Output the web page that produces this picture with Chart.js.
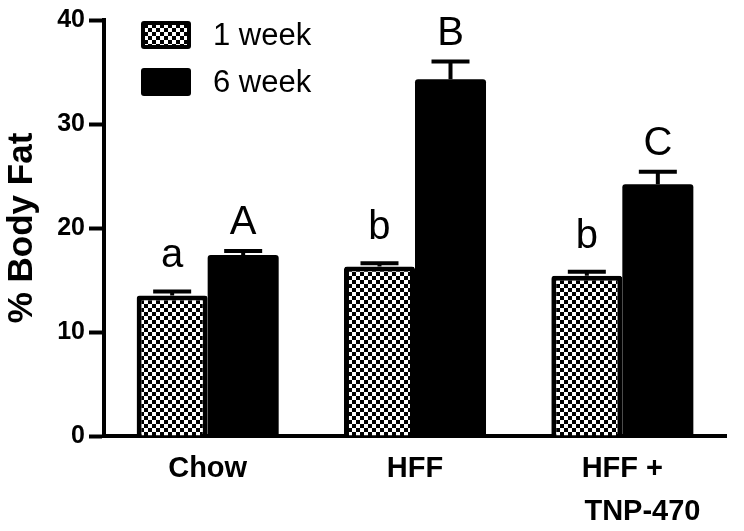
<!DOCTYPE html>
<html>
<head>
<meta charset="utf-8">
<title>% Body Fat</title>
<script src="https://cdn.jsdelivr.net/npm/chart.js@4"></script>
<style>
  html, body { margin: 0; padding: 0; background: #fff; }
  #wrap { width: 744px; height: 531px; position: relative; }
</style>
</head>
<body>
<div id="wrap"><canvas id="fatChart"></canvas></div>
<script>
// ---- data ----
const groups = ['Chow', 'HFF', ['HFF +', '\u00a0\u00a0\u00a0\u00a0\u00a0TNP-470']];
const seriesNames = ['1 week', '6 week'];
const week1 = [13.5, 16.3, 15.4];
const week6 = [17.4, 34.3, 24.2];
const week1Err = [0.4, 0.3, 0.4];
const week6Err = [0.4, 1.7, 1.2];
const week1Letters = ['a', 'b', 'b'];
const week6Letters = ['A', 'B', 'C'];
const yTicks = [0, 10, 20, 30, 40];

const FONT = "'Liberation Sans', Arial, Helvetica, sans-serif";

// checkerboard fill for the 1 week bars
function makeChecker() {
    const c = document.createElement('canvas');
    c.width = 8; c.height = 8;
    const g = c.getContext('2d');
    g.fillStyle = '#fff';
    g.fillRect(0, 0, 8, 8);
    g.fillStyle = '#000';
    g.fillRect(0, 0, 4, 4);
    g.fillRect(4, 4, 4, 4);
    return g.createPattern(c, 'repeat');
}
const checker = makeChecker();

// error bars (upper only) + significance letters
const errorBarPlugin = {
    id: 'errorBars',
    afterDatasetsDraw(chart) {
        const ctx = chart.ctx;
        const yScale = chart.scales.y;
        ctx.save();
        chart.data.datasets.forEach((ds, di) => {
            const meta = chart.getDatasetMeta(di);
            meta.data.forEach((bar, i) => {
                const v = ds.data[i];
                const top = yScale.getPixelForValue(v + ds.errors[i]);
                const base = yScale.getPixelForValue(v);
                ctx.strokeStyle = '#000';
                ctx.lineWidth = 4;
                ctx.beginPath();
                ctx.moveTo(bar.x, base);
                ctx.lineTo(bar.x, top);
                ctx.moveTo(bar.x - 19, top);
                ctx.lineTo(bar.x + 19, top);
                ctx.stroke();
                ctx.fillStyle = '#000';
                ctx.font = '40px ' + FONT;
                ctx.textAlign = 'center';
                ctx.textBaseline = 'alphabetic';
                ctx.fillText(ds.letters[i], bar.x, top - ds.letterGap);
            });
        });
        ctx.restore();
    }
};

// legend drawn inside the plot, top left
const insideLegendPlugin = {
    id: 'insideLegend',
    afterDraw(chart) {
        const ctx = chart.ctx;
        const x0 = chart.chartArea.left + 37;
        const y0 = chart.chartArea.top + 1;
        ctx.save();
        chart.data.datasets.forEach((ds, i) => {
            const y = y0 + i * 47;
            ctx.fillStyle = '#000';
            ctx.beginPath();
            ctx.roundRect(x0, y, 50, 28, 3);
            ctx.fill();
            if (ds.backgroundColor !== '#000') {
                ctx.fillStyle = ds.backgroundColor;
                ctx.fillRect(x0 + 4, y + 4, 42, 20);
            }
            ctx.fillStyle = '#000';
            ctx.font = '31px ' + FONT;
            ctx.textAlign = 'left';
            ctx.textBaseline = 'middle';
            ctx.fillText(ds.label, x0 + 72, y + 15);
        });
        ctx.restore();
    }
};

function initializeChart() {
    const ctx = document.getElementById('fatChart');
    new Chart(ctx, {
        type: 'bar',
        data: {
            labels: groups,
            datasets: [{
                label: seriesNames[0],
                data: week1,
                errors: week1Err,
                letters: week1Letters,
                letterGap: 24,
                backgroundColor: checker,
                borderColor: '#000',
                borderWidth: 5,
                borderRadius: 3,
                categoryPercentage: 0.685,
                barPercentage: 1.0
            }, {
                label: seriesNames[1],
                data: week6,
                errors: week6Err,
                letters: week6Letters,
                letterGap: 17,
                backgroundColor: '#000',
                borderColor: '#000',
                borderWidth: 0,
                borderRadius: 3,
                categoryPercentage: 0.685,
                barPercentage: 1.0
            }]
        },
        options: {
            responsive: true,
            maintainAspectRatio: false,
            animation: false,
            layout: {
                padding: { top: 20, right: 18, left: 0, bottom: 0 }
            },
            plugins: {
                legend: { display: false },
                tooltip: { enabled: false }
            },
            scales: {
                x: {
                    afterFit: function(scale) { scale.height = 95; },
                    grid: { display: false, drawTicks: false },
                    border: { display: true, color: '#000', width: 4 },
                    ticks: {
                        color: '#000',
                        padding: 11,
                        maxRotation: 0,
                        autoSkip: false,
                        font: { family: FONT, size: 29, weight: 'bold', lineHeight: 1.5 }
                    }
                },
                y: {
                    min: 0,
                    max: 40,
                    afterFit: function(scale) { scale.width = 104; },
                    afterBuildTicks: function(scale) {
                        scale.ticks = yTicks.map(v => ({ value: v }));
                    },
                    grid: {
                        display: true,
                        drawOnChartArea: false,
                        drawTicks: true,
                        tickLength: 15,
                        tickWidth: 4,
                        tickColor: '#000'
                    },
                    border: { display: true, color: '#000', width: 4 },
                    ticks: {
                        color: '#000',
                        padding: 4,
                        font: { family: FONT, size: 25, weight: 'bold' }
                    },
                    title: {
                        display: true,
                        text: '% Body Fat',
                        color: '#000',
                        padding: { top: 1, bottom: 0 },
                        font: { family: FONT, size: 35, weight: 'bold' }
                    }
                }
            }
        },
        plugins: [errorBarPlugin, insideLegendPlugin]
    });
}

document.addEventListener('DOMContentLoaded', function() {
    initializeChart();
});
</script>
</body>
</html>
